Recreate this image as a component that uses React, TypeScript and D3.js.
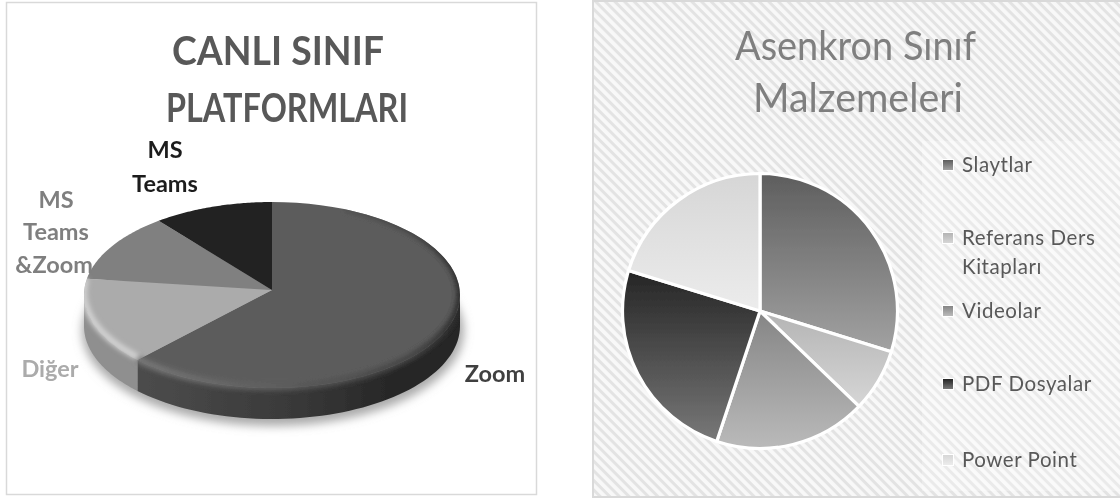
import React from "react";
import * as d3 from "d3";

const liveLabels = ["Zoom", "Diğer", "MS Teams &Zoom", "MS Teams"];
const liveValues = [62.7, 15.1, 11.9, 10.3];
const liveTop = ["#5c5c5c", "#ababab", "#808080", "#222222"];
const liveSide = ["url(#sideZoom)", "#8f8f8f", "#666666", "#1a1a1a"];

const asyncLabels = ["Slaytlar", "Referans Ders Kitapları", "Videolar", "PDF Dosyalar", "Power Point"];
const asyncValues = [29.8, 7.4, 17.9, 24.65, 20.25];
const asyncGrad = [["#5e5e5e", "#a2a2a2"], ["#b4b4b4", "#d6d6d6"], ["#858585", "#bababa"], ["#252525", "#787878"], ["#d6d6d6", "#ececec"]];
const legendRows = [165, 238, 311, 384, 460];

const FONT = "Lato, 'Open Sans', sans-serif";
const C = { x: 272, y: 295, rx: 188, ry: 93, apexY: 290, depth: 31 };
const ex = (a: number) => C.x + C.rx * Math.sin(a);
const ey = (a: number, d = 0) => C.y - C.ry * Math.cos(a) + d;
const samples = (a0: number, a1: number) => d3.range(0, 61).map((i) => a0 + ((a1 - a0) * i) / 60);
const line = d3.line<[number, number]>();

function topPath(a0: number, a1: number) {
  const pts = samples(a0, a1).map((a) => [ex(a), ey(a)] as [number, number]);
  return line([[C.x, C.apexY], ...pts]) + "Z";
}
function sidePath(a0: number, a1: number) {
  const s = Math.max(a0, Math.PI / 2), e = Math.min(a1, (3 * Math.PI) / 2);
  if (e <= s) return "";
  const up = samples(s, e).map((a) => [ex(a), ey(a)] as [number, number]);
  const lo = samples(e, s).map((a) => [ex(a), ey(a, C.depth)] as [number, number]);
  return line([...up, ...lo]) + "Z";
}
function arcOnly(a0: number, a1: number, d = 0) {
  return line(samples(a0, a1).map((a) => [ex(a), ey(a, d)] as [number, number])) || "";
}

const pie = d3.pie<number>().sort(null);
const arcsL = pie(liveValues);
const arcsR = pie(asyncValues);
const arcR = d3.arc<d3.PieArcDatum<number>>().innerRadius(0).outerRadius(137.5);

const R = { x: 760, y: 311 };

export default function App() {
  const outline = line(samples(0, Math.PI * 2).map((a) => [ex(a), ey(a)] as [number, number])) + "Z";
  return (
    <svg width={1120} height={500} viewBox="0 0 1120 500" style={{ position: "absolute", left: 0, top: 0, background: "#fff" }}>
      <defs>
        <pattern id="hatch" width="6.8" height="6.8" patternUnits="userSpaceOnUse" patternTransform="rotate(45)">
          <rect width="6.8" height="6.8" fill="#f8f8f8" />
          <rect width="6.8" height="3" fill="#e3e3e3" />
        </pattern>
        <linearGradient id="sideZoom" gradientUnits="userSpaceOnUse" x1="140" x2="461" y1="0" y2="0">
          <stop offset="0" stopColor="#4c4c4c" />
          <stop offset="0.5" stopColor="#383838" />
          <stop offset="0.8" stopColor="#262626" />
          <stop offset="1" stopColor="#262626" />
        </linearGradient>
        <linearGradient id="rimZoom" gradientUnits="userSpaceOnUse" x1="140" x2="461" y1="0" y2="0">
          <stop offset="0" stopColor="#777" />
          <stop offset="0.5" stopColor="#595959" />
          <stop offset="0.85" stopColor="#444" />
          <stop offset="1" stopColor="#2c2c2c" />
        </linearGradient>
        {asyncGrad.map((g, i) => (
          <linearGradient key={i} id={`ag${i}`} x1="0" x2="0" y1="0" y2="1">
            <stop offset="0" stopColor={g[0]} />
            <stop offset="1" stopColor={g[1]} />
          </linearGradient>
        ))}
        <filter id="soft" x="-10%" y="-10%" width="120%" height="120%"><feGaussianBlur stdDeviation="5" /></filter>
        <filter id="rim" x="-10%" y="-10%" width="120%" height="120%"><feGaussianBlur stdDeviation="2.8" /></filter>
        <filter id="lowres" x="0" y="0" width="100%" height="100%"><feGaussianBlur stdDeviation="0.45" /></filter>
        <clipPath id="bodyClip">
          <path d={outline} />
          <path d={sidePath(Math.PI / 2, (3 * Math.PI) / 2)} />
        </clipPath>
      </defs>

      <rect x={6.5} y={2.5} width={530} height={492} fill="#fff" stroke="#d9d9d9" strokeWidth={1.5} />
      <rect x={593} y={1} width={540} height={496} fill="url(#hatch)" stroke="#d9d9d9" strokeWidth={2} />
      <rect x={922} y={141} width={198} height={350} fill="#fff" opacity={0.25} />

      <g filter="url(#lowres)">
        <g fontFamily={FONT} fontWeight={700} fontSize={40} fill="#595959" textAnchor="middle">
          <text x={278} y={65} textLength={212} lengthAdjust="spacingAndGlyphs">CANLI SINIF</text>
          <text x={287} y={122} textLength={242} lengthAdjust="spacingAndGlyphs">PLATFORMLARI</text>
        </g>

        <ellipse cx={C.x + 1} cy={C.y + C.depth + 5} rx={C.rx + 3} ry={C.ry + 2} fill="#aaa" filter="url(#soft)" />
        {arcsL.map((d, i) => <path key={i} d={sidePath(d.startAngle, d.endAngle)} fill={liveSide[i]} />)}
        {arcsL.map((d, i) => <path key={i} d={topPath(d.startAngle, d.endAngle)} fill={liveTop[i]} />)}
        <g clipPath="url(#bodyClip)">
          <path d={arcOnly(arcsL[0].startAngle + 0.4, arcsL[0].endAngle, -1)} fill="none" stroke="url(#rimZoom)" strokeWidth={7} filter="url(#rim)" />
          <path d={arcOnly(arcsL[1].startAngle, arcsL[1].endAngle - 0.03, -3)} fill="none" stroke="#d4d4d4" strokeWidth={6} filter="url(#rim)" />
        </g>

        <g fontFamily={FONT} fontWeight={700} fontSize={23.5} textAnchor="middle">
          <g fill="#1c1c1c"><text x={165} y={158}>MS</text><text x={165} y={192}>Teams</text></g>
          <g fill="#7f7f7f"><text x={56} y={208}>MS</text><text x={56} y={240}>Teams</text><text x={54} y={273}>&amp;Zoom</text></g>
          <text x={50} y={377} fill="#ababab">{liveLabels[1]}</text>
          <text x={495} y={382} fill="#404040">{liveLabels[0]}</text>
        </g>

        <g fontFamily={FONT} fontSize={40} fill="#7f7f7f" textAnchor="middle" fontWeight={400}>
          <text x={855.5} y={60} textLength={241} lengthAdjust="spacingAndGlyphs">Asenkron Sınıf</text>
          <text x={858} y={112} textLength={210} lengthAdjust="spacingAndGlyphs">Malzemeleri</text>
        </g>

        <g transform={`translate(${R.x},${R.y})`}>
          {arcsR.map((d, i) => (
            <path key={i} d={arcR(d) || ""} fill={`url(#ag${i})`} stroke="#fff" strokeWidth={3.2} strokeLinejoin="round" />
          ))}
        </g>

        <g fontFamily={FONT} fontSize={20.5} fill="#595959" letterSpacing={0.55}>
          {asyncLabels.map((l, i) => (
            <g key={l}>
              <rect x={942} y={legendRows[i] - 6} width={12} height={12} fill="#fff" />
              <rect x={943} y={legendRows[i] - 5} width={10} height={10} fill={`url(#ag${i})`} />
              {i === 1 ? (
                <>
                  <text x={962} y={legendRows[i] + 7}>Referans Ders</text>
                  <text x={962} y={legendRows[i] + 36}>Kitapları</text>
                </>
              ) : (
                <text x={962} y={legendRows[i] + 7}>{l}</text>
              )}
            </g>
          ))}
        </g>
      </g>
    </svg>
  );
}
